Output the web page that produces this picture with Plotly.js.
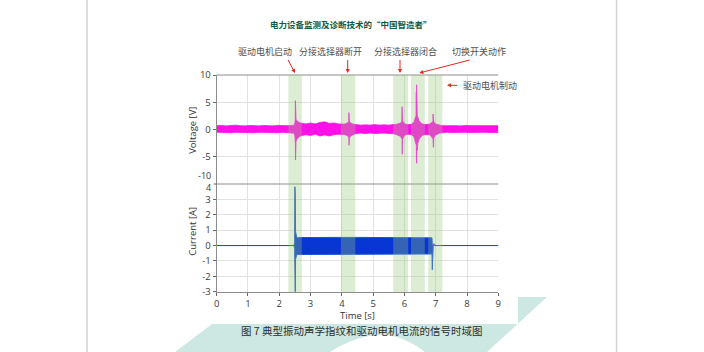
<!DOCTYPE html>
<html>
<head>
<meta charset="utf-8">
<script src="https://cdn.plot.ly/plotly-3.0.1.min.js"></script>
<style>
html,body{margin:0;padding:0;background:#fff;}
#chart{width:704px;height:352px;}
</style>
</head>
<body>
<div id="chart"></div>
<script>
// ---------- data (envelopes) ----------
const tV = [0,0.15,0.3,0.45,0.6,0.75,0.9,1.05,1.2,1.35,1.5,1.65,1.8,1.95,2.1,2.25,2.4,
  2.48,2.50,2.51,2.515,2.52,2.525,2.535,2.56,2.6,2.65,2.72,2.85,3.0,3.15,3.3,3.45,3.6,3.75,3.9,4.0,4.1,
  4.2,4.22,4.225,4.23,4.24,4.28,4.35,4.45,4.6,4.75,4.9,5.05,5.2,5.35,5.5,5.64,5.75,
  5.88,5.915,5.925,5.93,5.94,5.98,6.02,6.12,6.22,6.3,6.34,6.37,6.38,6.385,6.39,6.395,6.40,6.41,6.43,6.47,6.52,6.58,6.68,6.8,6.88,6.91,6.915,6.925,6.935,6.98,7.05,7.12,7.2,
  7.35,7.5,7.65,7.8,7.95,8.1,8.25,8.4,8.55,8.7,8.85,9.0];
const vUpper = [0.7,0.75,0.65,0.7,0.8,0.7,0.65,0.75,0.7,0.65,0.75,0.7,0.65,0.75,0.7,0.7,0.75,
  0.8,1.3,1.9,5.3,2.3,3.2,1.9,1.6,1.4,1.25,1.15,1.0,1.2,1.0,1.3,1.4,1.1,1.2,1.0,0.95,1.0,
  1.3,1.5,3.1,1.7,1.5,1.2,1.0,0.9,0.8,0.85,0.8,0.9,0.8,0.85,0.8,0.9,0.95,
  1.2,1.5,4.2,1.8,1.6,1.25,1.0,0.9,0.95,1.3,1.9,2.5,6.8,3.0,8.2,3.2,5.4,2.6,2.1,1.6,1.25,1.0,0.9,1.0,1.3,1.5,2.85,1.7,1.5,1.05,0.9,0.8,0.7,
  0.7,0.75,0.7,0.65,0.75,0.7,0.7,0.75,0.65,0.7,0.75,0.7];
const vLower = [-0.5,-0.55,-0.5,-0.6,-0.5,-0.55,-0.5,-0.55,-0.6,-0.5,-0.55,-0.5,-0.55,-0.6,-0.5,-0.55,-0.55,
  -0.7,-1.3,-2.3,-2.2,-5.6,-3.0,-2.2,-1.8,-1.5,-1.3,-1.1,-0.95,-1.1,-0.85,-1.2,-1.0,-1.2,-0.95,-0.85,-0.85,-0.95,
  -1.2,-1.6,-1.7,-2.9,-1.6,-1.2,-0.95,-0.75,-0.65,-0.75,-0.65,-0.75,-0.7,-0.65,-0.75,-0.75,-0.95,
  -1.3,-1.7,-1.8,-4.55,-1.8,-1.3,-1.0,-0.85,-0.95,-1.3,-2.1,-2.7,-2.9,-5.8,-3.4,-6.2,-3.4,-3.8,-2.5,-1.8,-1.4,-1.05,-0.95,-0.95,-1.4,-1.7,-1.8,-3.27,-1.6,-1.05,-0.8,-0.7,-0.6,
  -0.5,-0.55,-0.5,-0.55,-0.5,-0.55,-0.5,-0.55,-0.5,-0.55,-0.5,-0.55];

const tI = [0,2.47,2.49,2.50,2.51,2.52,2.54,2.56,2.7,3.0,3.5,4.0,4.5,5.0,5.5,6.0,6.5,6.86,6.88,6.89,6.9,6.92,6.94,6.96,6.98,7.05,9];
const iUpper = [0,0,0.2,3.82,3.25,0.9,0.6,0.5,0.52,0.53,0.53,0.53,0.53,0.53,0.53,0.53,0.53,0.53,0.5,0.1,0.0,0.05,0.12,0.05,0.01,0,0];
const iLower = [0,0,-0.2,-1.2,-3.0,-0.9,-0.65,-0.58,-0.58,-0.58,-0.58,-0.58,-0.58,-0.58,-0.58,-0.58,-0.58,-0.58,-0.55,-1.57,-0.3,-0.05,0,0,-0.01,0,0];

const bandStart = [2.29,3.97,5.64,6.21,6.76];
const bandEnd   = [2.72,4.43,6.12,6.65,7.21];

const xTicks = [0,1,2,3,4,5,6,7,8,9];
const xTickText = ['0','1','2','3','4','5','6','7','8','9'];
const vTicks = [-5,0,5,10];
const vTickText = ['-5','0','5','10'];
const vEdgeLabel = '-10';          // drawn lifted off the panel edge, as in the reference
const iTicks = [-3,-2,-1,0,1,2,3];
const iTickText = ['-3','-2','-1','0','1','2','3'];
const iEdgeLabel = '4';            // drawn nudged down off the panel edge, as in the reference

const titleText = '电力设备监测及诊断技术的“中国智造者”';
const eventLabels = ['驱动电机启动','分接选择器断开','分接选择器闭合','切换开关动作'];
const brakeLabel = '驱动电机制动';
const captionText = '图 7 典型振动声学指纹和驱动电机电流的信号时域图';

// ---------- helpers (pixel -> paper) ----------
const W = 704, H = 352;
const px = x => x / W;
const py = y => 1 - y / H;

const magenta = '#ff10e6';
const blue = '#0836d4';

const traces = [
  {x: tV, y: vLower, xaxis: 'x2', yaxis: 'y2', mode: 'lines', line: {color: magenta, width: 0.8}, hoverinfo: 'skip', showlegend: false},
  {x: tV, y: vUpper, xaxis: 'x2', yaxis: 'y2', mode: 'lines', fill: 'tonexty', fillcolor: magenta, line: {color: magenta, width: 0.8}, hoverinfo: 'skip', showlegend: false},
  {x: tI, y: iLower, xaxis: 'x', yaxis: 'y', mode: 'lines', line: {color: '#1a4fd8', width: 1}, hoverinfo: 'skip', showlegend: false},
  {x: tI, y: iUpper, xaxis: 'x', yaxis: 'y', mode: 'lines', fill: 'tonexty', fillcolor: blue, line: {color: '#1a4fd8', width: 1}, hoverinfo: 'skip', showlegend: false}
];

const tickFont = {family: '"Open Sans", "Noto Sans", sans-serif', size: 9.5, color: '#3a3a3a'};
const edgeFont = {family: tickFont.family, size: 9, color: tickFont.color};
const gridC = '#e2e2e2';
const axisC = '#8c8c8c';
const xDom = [px(216.7), px(498.3)];

const shapes = [];
// page border lines
shapes.push({type: 'line', xref: 'paper', yref: 'paper', x0: px(87), x1: px(87), y0: 0, y1: 1, line: {color: '#d2d2d2', width: 1.5}, layer: 'below'});
shapes.push({type: 'line', xref: 'paper', yref: 'paper', x0: px(616.5), x1: px(616.5), y0: 0, y1: 1, line: {color: '#d2d2d2', width: 1.5}, layer: 'below'});
// watermark
const wm = (pts) => 'M ' + pts.map(p => px(p[0]) + ',' + py(p[1])).join(' L ') + ' Z';
shapes.push({type: 'path', xref: 'paper', yref: 'paper', path: wm([[212,324],[518,324],[518,297],[547,297],[487,352],[175,352]]), fillcolor: '#cde8e2', line: {width: 0}, layer: 'below'});
shapes.push({type: 'path', xref: 'paper', yref: 'paper', path: 'M ' + px(330) + ',' + py(352) + ' Q ' + px(372) + ',' + py(326) + ' ' + px(405) + ',' + py(340) + ' Q ' + px(418) + ',' + py(346) + ' ' + px(425) + ',' + py(352) + ' Z', fillcolor: '#ffffff', line: {width: 0}, layer: 'below'});
// frame top lines of each panel
shapes.push({type: 'line', xref: 'paper', yref: 'paper', x0: xDom[0], x1: xDom[1], y0: py(75), y1: py(75), line: {color: axisC, width: 1}});
shapes.push({type: 'line', xref: 'paper', yref: 'paper', x0: xDom[0], x1: xDom[1], y0: py(184), y1: py(184), line: {color: axisC, width: 1}});
// small tick mark for the top "4" of the current panel
shapes.push({type: 'line', xref: 'paper', yref: 'paper', x0: px(213.7), x1: xDom[0], y0: py(184), y1: py(184), line: {color: '#666', width: 1}});
// highlighted event bands
for (let i = 0; i < bandStart.length; i++) {
  shapes.push({type: 'rect', xref: 'x', yref: 'paper', x0: bandStart[i], x1: bandEnd[i], y0: py(292), y1: py(75),
    fillcolor: 'rgb(150,200,120)', opacity: 0.32, line: {width: 0}, layer: 'above'});
}

const cjk = '"Noto Sans CJK SC", sans-serif';
const labelFont = {family: cjk, size: 9, color: '#505050'};
const red = '#e8281e';
const ann = (text, x, y, font, extra) => Object.assign({text: text, xref: 'paper', yref: 'paper', x: px(x), y: py(y), xanchor: 'center', yanchor: 'middle', showarrow: false, font: font}, extra || {});
const arrow = (x, y, ax, ay) => ({text: '', xref: 'paper', yref: 'paper', x: px(x), y: py(y), ax: ax, ay: ay, showarrow: true, arrowhead: 2, arrowsize: 0.8, arrowwidth: 1, arrowcolor: red});
const latin = {family: '"Open Sans", sans-serif', size: 9.5, color: '#333'};

const annotations = [
  ann('<b>' + titleText + '</b>', 351, 24, {family: cjk, size: 8.5, color: '#0f5a48'}),
  ann(eventLabels[0], 264.7, 51.5, labelFont),
  ann(eventLabels[1], 330, 51.5, labelFont),
  ann(eventLabels[2], 405, 51.5, labelFont),
  ann(eventLabels[3], 479, 51.5, labelFont),
  ann(brakeLabel, 461, 85.3, labelFont, {xanchor: 'left'}),
  arrow(295, 73, -7.7, -14.5),
  arrow(347.7, 73, 0, -14.5),
  arrow(400, 73, 0, -14.5),
  arrow(419.3, 73, 51.7, -13.3),
  arrow(447, 85.3, 12, 0),
  ann('Voltage [V]', 193, 130.8, latin, {textangle: -90}),
  ann('Current [A]', 193, 231.7, latin, {textangle: -90}),
  ann('Time [s]', 357, 315, latin),
  ann(vEdgeLabel, 212.3, 175.3, edgeFont, {xanchor: 'right', borderpad: 0}),
  ann(iEdgeLabel, 212.3, 187, edgeFont, {xanchor: 'right', borderpad: 0}),
  ann(captionText, 362, 330, {family: cjk, size: 10.5, color: '#2e2e2e'})
];

const layout = {
  width: W, height: H,
  margin: {l: 0, r: 0, t: 0, b: 0},
  paper_bgcolor: '#ffffff', plot_bgcolor: 'rgba(0,0,0,0)',
  showlegend: false,
  xaxis: {domain: xDom, anchor: 'y', range: [0, 9], tickvals: xTicks, ticktext: xTickText, ticks: 'outside', ticklen: 3, tickcolor: '#666',
    showline: true, linecolor: axisC, linewidth: 1, showgrid: true, gridcolor: gridC, zeroline: false, tickfont: tickFont, fixedrange: true},
  yaxis: {domain: [py(292), py(184)], anchor: 'x', range: [-3.02, 4.0], tickvals: iTicks, ticktext: iTickText, ticks: 'outside', ticklen: 3, tickcolor: '#666',
    showline: true, linecolor: axisC, linewidth: 1, showgrid: true, gridcolor: gridC, zeroline: false, tickfont: tickFont, fixedrange: true},
  xaxis2: {domain: xDom, anchor: 'y2', range: [0, 9], tickvals: xTicks, showticklabels: false, ticks: '',
    showline: false, showgrid: true, gridcolor: gridC, zeroline: false, fixedrange: true},
  yaxis2: {domain: [py(184), py(75)], anchor: 'x2', range: [-10, 10], tickvals: vTicks, ticktext: vTickText, ticks: 'outside', ticklen: 3, tickcolor: '#666',
    showline: true, linecolor: axisC, linewidth: 1, showgrid: true, gridcolor: gridC, zeroline: false, tickfont: tickFont, fixedrange: true},
  shapes: shapes,
  annotations: annotations
};

Plotly.newPlot('chart', traces, layout, {displayModeBar: false, staticPlot: true});
</script>
</body>
</html>
